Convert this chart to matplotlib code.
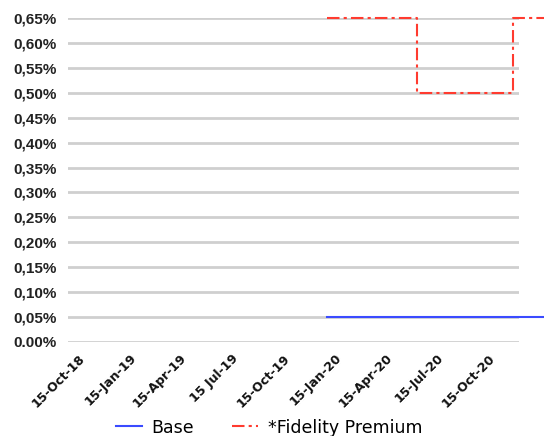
import matplotlib
matplotlib.use("Agg")
import matplotlib.pyplot as plt
import pandas as pd

# Data (values in %)
base_dates = ["2020-01-02", "2021-01-23"]
base_values = [0.05, 0.05]

premium_dates = ["2020-01-02", "2020-06-10", "2020-06-10", "2020-11-28", "2020-11-28", "2021-01-23"]
premium_values = [0.65, 0.65, 0.50, 0.50, 0.65, 0.65]

tick_dates = ["2018-10-15", "2019-01-15", "2019-04-15", "2019-07-15", "2019-10-15",
              "2020-01-15", "2020-04-15", "2020-07-15", "2020-10-15"]
tick_labels = ["15-Oct-18", "15-Jan-19", "15-Apr-19", "15 Jul-19", "15-Oct-19",
               "15-Jan-20", "15-Apr-20", "15-Jul-20", "15-Oct-20"]

y_ticks = [0.00, 0.05, 0.10, 0.15, 0.20, 0.25, 0.30, 0.35, 0.40, 0.45, 0.50, 0.55, 0.60, 0.65]
y_labels = ["0.00%", "0,05%", "0,10%", "0,15%", "0,20%", "0,25%", "0,30%", "0,35%",
            "0,40%", "0,45%", "0,50%", "0,55%", "0,60%", "0,65%"]

fig = plt.figure(figsize=(5.44, 4.36), dpi=100)
ax = fig.add_axes([0.125, 0.2156, 0.829, 0.7431])

bd = pd.to_datetime(base_dates)
pdts = pd.to_datetime(premium_dates)

ax.plot(bd, base_values, color="#3a4bff", lw=1.5, clip_on=False, label="Base", zorder=3)
ax.plot(pdts, premium_values, color="#ff3b2f", lw=1.5, linestyle=(0, (6, 2, 1.5, 2)),
        clip_on=False, label="*Fidelity Premium", zorder=3)

ax.set_xlim(pd.Timestamp("2018-09-27"), pd.Timestamp("2020-12-09"))
ax.set_ylim(0, 0.65)

ax.set_yticks(y_ticks)
ax.set_yticklabels(y_labels, fontfamily="Liberation Sans", fontweight="bold", fontsize=11, color="#222222")
ax.set_xticks(pd.to_datetime(tick_dates))
ax.set_xticklabels(tick_labels, rotation=45, ha="right", rotation_mode="anchor",
                   fontsize=9, fontweight="bold", color="#111111")

ax.grid(axis="y", color="#cfcfcf", lw=2)
ax.set_axisbelow(True)
ax.tick_params(axis="both", length=0)
ax.tick_params(axis="y", pad=8)
ax.tick_params(axis="x", pad=7)
for s in ax.spines.values():
    s.set_visible(False)

leg = fig.legend(loc="lower center", ncol=2, frameon=False, fontsize=12.5,
                 bbox_to_anchor=(0.495, -0.037), handlelength=1.5, handletextpad=0.55,
                 columnspacing=2.2)

fig.savefig("out.png", dpi=100)
